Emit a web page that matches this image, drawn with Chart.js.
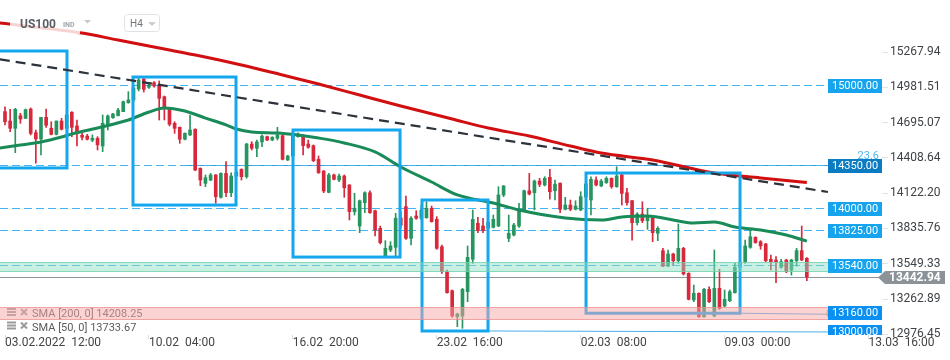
<!DOCTYPE html>
<html>
<head>
<meta charset="utf-8">
<script src="https://cdn.jsdelivr.net/npm/chart.js@4.4.1/dist/chart.umd.min.js"></script>
<style>
  html, body { margin: 0; padding: 0; background: #fff; }
  #wrap { width: 950px; height: 360px; position: relative; }
</style>
</head>
<body>
<div id="wrap"><canvas id="chart"></canvas></div>
<script>
// US100, H4 bars: [open, high, low, close]
const ohlc = [
  [14784,14824,14676,14702],[14708,14803,14621,14649],[14649,14811,14451,14803],[14751,14771,14689,14724],
  [14730,14805,14727,14800],[14805,14814,14595,14608],[14613,14635,14365,14562],[14562,14738,14432,14738],
  [14738,14805,14657,14673],[14649,14702,14595,14600],[14600,14708,14595,14708],[14708,14730,14635,14641],
  [14649,14784,14608,14757],[14779,14784,14581,14657],[14668,14716,14505,14608],[14592,14608,14554,14576],
  [14586,14600,14554,14560],[14552,14595,14540,14568],[14568,14581,14473,14514],[14505,14757,14459,14689],
  [14676,14757,14635,14749],[14735,14771,14730,14765],[14751,14811,14749,14797],[14784,14870,14784,14865],
  [14857,14946,14852,14879],[14879,15000,14862,14976],[14968,15053,14952,15041],[15047,15057,14943,14965],
  [14982,15014,14973,15000],[15019,15027,14982,14992],[15000,15033,14716,14892],[14905,14911,14716,14811],
  [14811,14815,14668,14681],[14689,14702,14608,14649],[14657,14660,14527,14560],[14560,14613,14554,14608],
  [14595,14757,14590,14635],[14641,14645,14305,14310],[14324,14328,14183,14229],[14202,14270,14175,14248],
  [14229,14283,14224,14270],[14270,14274,14040,14094],[14089,14288,14081,14283],[14283,14378,14094,14126],
  [14126,14288,14094,14262],[14262,14310,14245,14294],[14316,14320,14229,14256],[14256,14527,14243,14521],
  [14521,14540,14473,14487],[14487,14554,14418,14538],[14538,14595,14500,14586],[14581,14586,14548,14554],
  [14554,14581,14548,14576],[14568,14657,14554,14595],[14589,14595,14392,14397],[14392,14430,14386,14424],
  [14424,14611,14416,14586],[14581,14613,14576,14603],[14581,14595,14432,14508],[14521,14554,14487,14495],
  [14508,14514,14378,14386],[14397,14424,14283,14288],[14302,14306,14126,14140],[14129,14283,14125,14270],
  [14270,14278,14229,14235],[14229,14278,14215,14262],[14262,14270,14089,14167],[14189,14192,13905,13972],
  [13972,14121,13945,14000],[13856,14067,13802,14061],[14045,14134,13964,14126],[14126,14142,13959,13964],
  [13980,13986,13775,13824],[13837,13856,13710,13721],[13613,13737,13607,13675],[13661,13729,13648,13694],
  [13683,13959,13607,13919],[13921,13970,13840,13864],[14013,14099,13748,13756],[13756,13932,13702,13919],
  [13937,13980,13910,13919],[13919,14026,13905,13986],[13923,14053,13919,14000],[14000,14018,13887,13891],
  [13910,13932,13667,13675],[13688,13702,13472,13485],[13485,13499,13310,13315],[13331,13337,13115,13126],
  [13120,13148,13039,13142],[13126,13350,13026,13342],[13323,13694,13242,13602],[13586,13986,13553,13910],
  [13878,13927,13802,13818],[13856,13919,13802,13818],[13840,13921,13807,13889],[13845,13945,13840,13910],
  [13856,14175,13850,14108],[14108,14184,14094,14181],[13756,13945,13729,13797],[13783,13878,13775,13864],
  [13856,14040,13845,13992],[13986,14148,13972,14142],[14142,14283,14108,14116],[14126,14229,13986,14221],
  [14221,14243,14175,14194],[14189,14256,14181,14243],[14251,14316,14073,14134],[14142,14229,14067,14194],
  [14203,14207,13964,13992],[13992,14089,13986,14026],[14026,14067,13980,13992],[13992,14061,13986,14018],
  [13986,14134,13980,14094],[14091,14229,14067,14197],[14067,14256,13945,14235],[14229,14256,14181,14189],
  [14181,14235,14175,14221],[14207,14256,14202,14243],[14243,14247,14162,14175],[14175,14337,14170,14262],
  [14270,14278,14026,14121],[14126,14162,14026,14045],[14061,14065,13742,13883],[13883,13964,13864,13953],
  [13953,14053,13883,13899],[13899,14000,13829,13927],[13927,13937,13729,13802],[13797,13850,13737,13837],
  [13656,13675,13526,13531],[13531,13661,13526,13629],[13629,13635,13540,13574],[13574,13872,13553,13675],
  [13675,13683,13458,13467],[13472,13477,13256,13261],[13256,13377,13242,13310],[13310,13314,13115,13120],
  [13120,13350,13115,13342],[13342,13363,13234,13242],[13126,13661,13120,13350],[13350,13505,13180,13188],
  [13207,13337,13201,13261],[13250,13337,13242,13323],[13315,13553,13310,13521],[13521,13596,13499,13564],
  [13566,13742,13553,13694],[13683,13818,13675,13769],[13764,13769,13716,13721],[13729,13737,13667,13694],
  [13710,13716,13566,13574],[13586,13621,13499,13566],[13580,13607,13396,13566],[13521,13586,13513,13566],
  [13580,13586,13477,13485],[13499,13586,13458,13580],[13574,13675,13531,13656],[13656,13856,13574,13580],
  [13594,13599,13412,13442.94]
];

// moving averages, sampled along the drawn lines (bar index -> value)
const sma50Idx = [-1, 3, 7, 11, 13, 18, 24, 28, 31, 35, 39, 43, 45, 48, 53, 57, 61, 66, 72, 77, 83, 88, 95, 100, 109, 116, 120, 125, 129, 134, 138, 142, 147, 152, 156];
const sma50 = [14489, 14513, 14538, 14578, 14603, 14651, 14716, 14781, 14814, 14789, 14732, 14676, 14643, 14619, 14611, 14594, 14570, 14530, 14457, 14335, 14213, 14108, 14043, 13986, 13921, 13905, 13929, 13937, 13913, 13880, 13888, 13848, 13823, 13783, 13733.67];
const sma200Idx = [-1, 15, 22, 30, 38, 46, 54, 61, 69, 77, 87, 94, 102, 110, 116, 126, 138, 147, 156];
const sma200 = [15503, 15422, 15365, 15300, 15236, 15163, 15081, 15008, 14919, 14830, 14724, 14651, 14586, 14505, 14448, 14392, 14286, 14246, 14208.25];

const xTickIdx = [0, 28, 56, 84, 112, 140, 168];
const xTickLabels = ["03.02.2022  12:00", "10.02  04:00", "16.02  20:00", "23.02  16:00", "02.03  08:00", "09.03  00:00", "13.03  16:00"];
const yTicks = [12976.45, 13262.89, 13549.33, 13835.76, 14122.20, 14408.64, 14695.07, 14981.51, 15267.94];

const levels = [15000, 14350, 14000, 13825, 13540, 13160, 13000];
const dashedLevels = [15000, 14350, 14000, 13825, 13540];
const lastPrice = 13442.94;
const fibLevel = 14350, fibFrom = 35, fibText = "23.6";
// [from bar, to bar, top, bottom]
const boxes = [
  [-1.6, 12.06, 15276, 14327],
  [24.9, 44.94, 15065, 14026],
  [56.03, 76.85, 14635, 13604],
  [81.13, 93.97, 14067, 13004],
  [113.04, 143.0, 14286, 13148]
];
const trend = [[-1, 15209], [160.1, 14132]];
const rays = [[94, 13004, 160.1, 12996], [143, 13148, 160.1, 13140]];
const greenZone = [13561, 13487];
const redZone = [13196, 13104];
const tagIdx = 160.1;

const X_MIN = -0.973, X_MAX = 170.62;
const Y_MIN = 12971.5, Y_MAX = 15690;

const UP = "#27955f", DOWN = "#d7283c";
const colors = ohlc.map((c) => (c[3] >= c[0] ? UP : DOWN));

const overlay = {
  id: "overlay",
  beforeDatasetsDraw(chart) {
    const { ctx, chartArea: a, scales: { x, y } } = chart;
    const xr = x.getPixelForValue(tagIdx);
    const py = (v) => Math.round(y.getPixelForValue(v)) + 0.5;
    ctx.save();
    ctx.lineWidth = 1;
    // fibo line
    ctx.strokeStyle = "#2f9be0";
    ctx.beginPath();
    ctx.moveTo(x.getPixelForValue(fibFrom), py(fibLevel));
    ctx.lineTo(xr, py(fibLevel));
    ctx.stroke();
    // dashed levels
    ctx.strokeStyle = "#43b4ef";
    ctx.setLineDash([8, 4]);
    dashedLevels.forEach((v) => {
      ctx.beginPath();
      ctx.moveTo(a.left, py(v));
      ctx.lineTo(xr, py(v));
      ctx.stroke();
    });
    ctx.setLineDash([]);
    // rays
    ctx.strokeStyle = "#4aaeea";
    rays.forEach(([i0, v0, i1, v1]) => {
      ctx.beginPath();
      ctx.moveTo(x.getPixelForValue(i0), y.getPixelForValue(v0));
      ctx.lineTo(x.getPixelForValue(i1), y.getPixelForValue(v1));
      ctx.stroke();
    });
    // last price line
    ctx.strokeStyle = "#8d949a";
    ctx.beginPath();
    ctx.moveTo(a.left, py(lastPrice));
    ctx.lineTo(a.right, py(lastPrice));
    ctx.stroke();
    ctx.restore();
  },
  afterDatasetsDraw(chart) {
    const { ctx, chartArea: a, scales: { x, y } } = chart;
    const xr = x.getPixelForValue(tagIdx);
    ctx.save();
    ctx.beginPath();
    ctx.rect(a.left, a.top, a.right - a.left, a.bottom - a.top);
    ctx.clip();

    // boxes
    ctx.strokeStyle = "#14a7ee";
    ctx.lineWidth = 3;
    boxes.forEach(([i0, i1, hi, lo]) => {
      const x0 = x.getPixelForValue(i0), x1 = x.getPixelForValue(i1);
      const y0 = y.getPixelForValue(hi), y1 = y.getPixelForValue(lo);
      ctx.strokeRect(x0, y0, x1 - x0, y1 - y0);
    });

    // trend line
    ctx.strokeStyle = "#2d333b";
    ctx.lineWidth = 2.2;
    ctx.setLineDash([10, 6]);
    ctx.beginPath();
    ctx.moveTo(x.getPixelForValue(trend[0][0]), y.getPixelForValue(trend[0][1]));
    ctx.lineTo(x.getPixelForValue(trend[1][0]), y.getPixelForValue(trend[1][1]));
    ctx.stroke();
    ctx.setLineDash([]);

    // indicator legend
    [["SMA [200, 0] " + sma200[sma200.length - 1], 317], ["SMA [50, 0] " + sma50[sma50.length - 1], 330.5]].forEach(([t, b]) => {
      ctx.fillStyle = "#9a9a9a";
      ctx.fillRect(7, b - 9, 9, 2);
      ctx.fillRect(7, b - 6, 9, 2);
      ctx.fillRect(7, b - 3, 9, 2);
      ctx.strokeStyle = "#9a9a9a";
      ctx.lineWidth = 2;
      ctx.beginPath();
      ctx.moveTo(21, b - 8); ctx.lineTo(27, b - 2);
      ctx.moveTo(27, b - 8); ctx.lineTo(21, b - 2);
      ctx.stroke();
      ctx.fillStyle = "#5a5a5a";
      ctx.font = "11px Roboto";
      ctx.textBaseline = "alphabetic";
      ctx.fillText(t, 32, b);
    });

    // zones
    const zone = ([hi, lo], fill, edge) => {
      const y0 = Math.round(y.getPixelForValue(hi)) + 0.5;
      const y1 = Math.round(y.getPixelForValue(lo)) + 0.5;
      ctx.fillStyle = fill;
      ctx.fillRect(a.left, y0, xr - a.left, y1 - y0);
      ctx.strokeStyle = edge;
      ctx.lineWidth = 1;
      ctx.beginPath();
      ctx.moveTo(a.left, y0); ctx.lineTo(xr, y0);
      ctx.moveTo(a.left, y1); ctx.lineTo(xr, y1);
      ctx.stroke();
    };
    zone(greenZone, "rgba(140,222,192,0.48)", "rgba(110,210,170,0.8)");
    zone(redZone, "rgba(247,168,168,0.5)", "rgba(238,140,140,0.75)");

    // bracket mark at the 13160 ray end
    ctx.strokeStyle = "#f3a356";
    ctx.lineWidth = 1.2;
    ctx.beginPath();
    ctx.arc(xr + 4, y.getPixelForValue(13148), 5, Math.PI * 0.65, Math.PI * 1.35);
    ctx.stroke();

    // level tags
    ctx.font = "11px Roboto";
    ctx.textBaseline = "middle";
    levels.forEach((v) => {
      const p = Math.round(y.getPixelForValue(v));
      ctx.fillStyle = v === 14350 ? "#0c7cc2" : v <= 13160 ? "#0990f2" : "#16a4ee";
      ctx.fillRect(Math.round(xr), p - 6, 54, 14);
      ctx.fillStyle = "#fff";
      ctx.textAlign = "left";
      ctx.fillText(v.toFixed(2), Math.round(xr) + 4, p + 1.5);
    });
    ctx.fillStyle = "#4ab6f0";
    ctx.textAlign = "right";
    ctx.fillText(fibText, Math.round(xr) + 51, Math.round(y.getPixelForValue(fibLevel)) - 9);
    ctx.restore();
  },
  afterDraw(chart) {
    const { ctx, chartArea: a, scales: { y } } = chart;
    ctx.save();
    // last price tag
    const p = Math.round(y.getPixelForValue(lastPrice)) + 0.5;
    ctx.fillStyle = "#8b9399";
    ctx.beginPath();
    ctx.moveTo(a.right - 4, p);
    ctx.lineTo(a.right + 3, p - 6.5);
    ctx.lineTo(chart.width - 5, p - 6.5);
    ctx.lineTo(chart.width - 5, p + 6.5);
    ctx.lineTo(a.right + 3, p + 6.5);
    ctx.closePath();
    ctx.fill();
    ctx.fillStyle = "#fff";
    ctx.font = "bold 12px Roboto";
    ctx.textBaseline = "middle";
    ctx.fillText(lastPrice.toFixed(2), a.right + 7, p + 0.5);

    // header
    ctx.fillStyle = "rgba(255,255,255,0.82)";
    ctx.fillRect(10, 15, 70, 19);
    ctx.textBaseline = "alphabetic";
    ctx.fillStyle = "#595e64";
    ctx.font = "bold 12px Roboto";
    ctx.fillText("US100", 20, 27.5);
    ctx.fillStyle = "#9ea6ad";
    ctx.font = "bold 7px Roboto";
    ctx.fillText("IND", 63, 26.7);
    ctx.fillStyle = "#c3c8cc";
    ctx.beginPath();
    ctx.moveTo(84, 20); ctx.lineTo(91, 20); ctx.lineTo(87.5, 23.5);
    ctx.closePath();
    ctx.fill();
    ctx.strokeStyle = "#dfe2e5";
    ctx.lineWidth = 1;
    ctx.beginPath();
    ctx.roundRect(124.5, 14.5, 35, 17, 3);
    ctx.stroke();
    ctx.fillStyle = "#70767c";
    ctx.font = "10px Roboto";
    ctx.fillText("H4", 130, 27);
    ctx.fillStyle = "#c3c8cc";
    ctx.beginPath();
    ctx.moveTo(148, 22.3); ctx.lineTo(156, 22.3); ctx.lineTo(152, 25.7);
    ctx.closePath();
    ctx.fill();
    ctx.restore();
  }
};

const ctx = document.getElementById("chart").getContext("2d");
new Chart(ctx, {
  type: "bar",
  data: {
    datasets: [
      {
        type: "line",
        label: "SMA 50",
        data: sma50Idx.map((i, k) => ({ x: i, y: sma50[k] })),
        borderColor: "#198b59",
        borderWidth: 3,
        pointRadius: 0,
        cubicInterpolationMode: "monotone",
        order: 1
      },
      {
        type: "line",
        label: "SMA 200",
        data: sma200Idx.map((i, k) => ({ x: i, y: sma200[k] })),
        borderColor: "#d10f10",
        borderWidth: 3,
        pointRadius: 0,
        cubicInterpolationMode: "monotone",
        order: 2
      },
      {
        label: "body",
        data: ohlc.map((c, i) => ({ x: i, y: [c[0], c[3]] })),
        backgroundColor: colors,
        barThickness: 3,
        minBarLength: 1,
        grouped: false,
        order: 3
      },
      {
        label: "wick",
        data: ohlc.map((c, i) => ({ x: i, y: [c[2], c[1]] })),
        backgroundColor: colors,
        barThickness: 1,
        grouped: false,
        order: 4
      }
    ]
  },
  options: {
    responsive: true,
    maintainAspectRatio: false,
    animation: false,
    layout: { padding: 0 },
    plugins: { legend: { display: false }, tooltip: { enabled: false } },
    scales: {
      x: {
        type: "linear",
        min: X_MIN,
        max: X_MAX,
        offset: false,
        afterBuildTicks: (s) => { s.ticks = xTickIdx.map((v) => ({ value: v })); },
        afterFit: (s) => { s.height = 25; s.paddingLeft = 0; s.paddingRight = 0; },
        grid: { drawOnChartArea: false, offset: false, tickLength: 4, color: "#dcdcdc" },
        border: { display: false },
        ticks: {
          align: "start",
          maxRotation: 0,
          autoSkip: false,
          padding: -3,
          color: "#444",
          font: { family: "Roboto", size: 12 },
          callback: (v) => xTickLabels[xTickIdx.indexOf(v)] ?? ""
        }
      },
      y: {
        position: "right",
        min: Y_MIN,
        max: Y_MAX,
        afterBuildTicks: (s) => { s.ticks = yTicks.map((v) => ({ value: v })); },
        afterFit: (s) => { s.width = 68; s.paddingTop = 0; s.paddingBottom = 0; },
        grid: { drawOnChartArea: false, tickLength: 6, color: "#e2e2e2" },
        border: { display: false },
        ticks: {
          padding: 2,
          color: "#3f4246",
          font: { family: "Roboto", size: 12 },
          callback: (v) => v.toFixed(2)
        }
      }
    }
  },
  plugins: [overlay]
});
</script>
</body>
</html>
